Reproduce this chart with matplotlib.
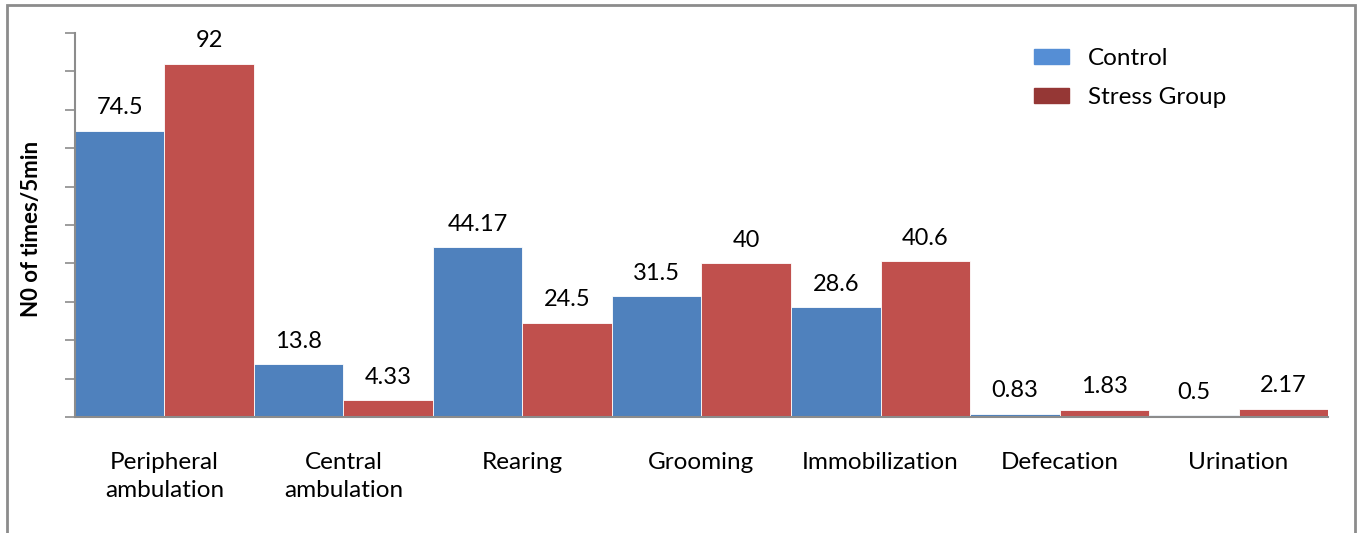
import numpy as np
import matplotlib.pyplot as plt
from matplotlib.patches import Patch, Rectangle

plt.rcParams['font.family'] = ['Lato', 'DejaVu Sans']

categories = ['Peripheral\nambulation', 'Central\nambulation', 'Rearing',
              'Grooming', 'Immobilization', 'Defecation', 'Urination']
control = [74.5, 13.8, 44.17, 31.5, 28.6, 0.83, 0.5]
stress = [92, 4.33, 24.5, 40, 40.6, 1.83, 2.17]
control_labels = ['74.5', '13.8', '44.17', '31.5', '28.6', '0.83', '0.5']
stress_labels = ['92', '4.33', '24.5', '40', '40.6', '1.83', '2.17']
series_names = ['Control', 'Stress Group']

fig = plt.figure(figsize=(13.6, 5.33), dpi=100)
ax = fig.add_axes([0.0551, 0.2176, 0.9214, 0.7204])

# figure frame
fig.patches.append(Rectangle((0.005, -0.05), 0.991, 1.041, transform=fig.transFigure,
                             fill=False, edgecolor='#8c8c8c', linewidth=2))

x = np.arange(len(categories))
w = 0.5
b1 = ax.bar(x - w / 2, control, width=w, color='#4F81BD', edgecolor='white', linewidth=0.6)
b2 = ax.bar(x + w / 2, stress, width=w, color='#C0504D', edgecolor='white', linewidth=0.6)

for bars, labels in ((b1, control_labels), (b2, stress_labels)):
    for rect, lab in zip(bars, labels):
        ax.annotate(lab, (rect.get_x() + rect.get_width() / 2, rect.get_height()),
                    xytext=(0, 9), textcoords='offset points',
                    ha='center', va='bottom', fontsize=17)

ax.set_xlim(-0.5, len(categories) - 0.5)
ax.set_ylim(0, 100)
ax.set_yticks(np.arange(0, 101, 10))
ax.set_yticklabels([])
ax.set_xticks(x)
ax.set_xticklabels(categories, fontsize=17.5, linespacing=1.45)
ax.tick_params(axis='x', length=0, pad=25)
ax.tick_params(axis='y', direction='out', length=7, width=1.2, color='#8c8c8c')

for s in ('top', 'right'):
    ax.spines[s].set_visible(False)
for s in ('left', 'bottom'):
    ax.spines[s].set_color('#8c8c8c')
    ax.spines[s].set_linewidth(1.5)

ax.set_ylabel('N0 of times/5min', fontsize=16, fontweight='bold')
ax.yaxis.set_label_coords(-0.026, 0.49)

handles = [Patch(color='#558ED5'), Patch(color='#953735')]
ax.legend(handles, series_names, loc='upper left', bbox_to_anchor=(0.748, 1.018),
          frameon=False, fontsize=17.5, handlelength=1.45, handleheight=0.6,
          handletextpad=0.75, labelspacing=0.75)

fig.savefig('out.png', dpi=100)
